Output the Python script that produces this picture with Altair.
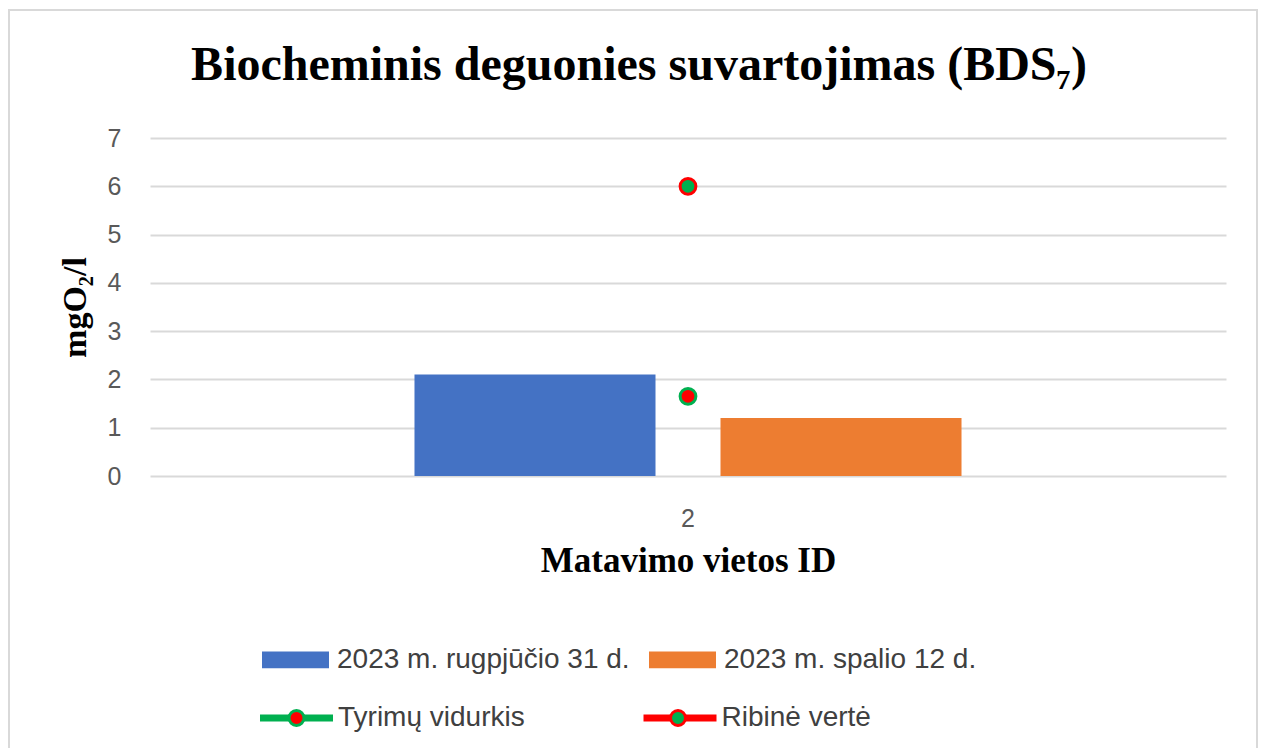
import altair as alt
import pandas as pd

site_ids = ["2"]
bar_series = ["2023 m. rugpjūčio 31 d.", "2023 m. spalio 12 d."]
bar_values = [2.1, 1.2]
bar_colors = ["#4472C4", "#ED7D31"]
point_series = ["Tyrimų vidurkis", "Ribinė vertė"]
point_values = [1.65, 6.0]
point_fill = ["#FF0000", "#00B050"]
point_stroke = ["#00B050", "#FF0000"]
y_ticks = [0, 1, 2, 3, 4, 5, 6, 7]

bars_df = pd.DataFrame({"id": site_ids * 2, "series": bar_series, "value": bar_values})
pts_df = pd.DataFrame({"id": site_ids * 2, "series": point_series,
                       "line_series": point_series, "value": point_values})

W, H = 1076, 338
SANS = "Liberation Sans"
SERIF = "Liberation Serif"

x_enc = alt.X(
    "id:N", title="Matavimo vietos ID",
    scale=alt.Scale(paddingInner=0, paddingOuter=0.4835),
    axis=alt.Axis(labelAngle=0, labelFont=SANS, labelFontSize=25, labelColor="#595959",
                  labelBaseline="alphabetic", labelPadding=50, ticks=False, tickSize=0,
                  domain=False, grid=False,
                  titleFont=SERIF, titleFontSize=35, titleFontWeight="bold", titleColor="black",
                  titleX=W / 2, titleY=95, titleBaseline="alphabetic", titleAlign="center"),
)
y_enc = alt.Y(
    "value:Q", title="mgO₂/l",
    scale=alt.Scale(domain=[0, 7], nice=False),
    axis=alt.Axis(values=y_ticks, labelFont=SANS, labelFontSize=25, labelColor="#595959",
                  labelPadding=29, ticks=False, tickSize=0, domain=False,
                  grid=True, gridColor="#D9D9D9", gridWidth=2,
                  titleFont=SERIF, titleFontSize=34, titleFontWeight="bold", titleColor="black",
                  titleAngle=270, titleX=-75, titleY=H / 2, titleAlign="center",
                  titleBaseline="middle"),
)

rect_path = "M-1,-0.25H1V0.25H-1Z"
line_path = "M-1,0H1"
r = 0.1948
circle_path = f"M{r},0A{r},{r},0,1,1,-{r},0A{r},{r},0,1,1,{r},0Z"

leg_bars = alt.Legend(title=None, orient="none", legendX=112, legendY=488, direction="horizontal",
                      symbolType=rect_path, symbolSize=67 * 67, symbolStrokeWidth=0,
                      labelFont=SANS, labelFontSize=28, labelColor="#404040", labelOffset=8,
                      columnPadding=19, padding=0, labelLimit=600)
leg_lines = alt.Legend(title=None, orient="none", legendX=106.5, legendY=540,
                       direction="horizontal",
                       symbolType=line_path, symbolSize=73 * 73, symbolStrokeWidth=7,
                       labelFont=SANS, labelFontSize=28, labelColor="#404040", labelOffset=1.5,
                       columnPadding=103.5, padding=0, labelLimit=600, zindex=1)
leg_dots = alt.Legend(title=None, orient="none", legendX=106.5, legendY=540,
                      direction="horizontal",
                      symbolType=circle_path, symbolSize=77 * 77, symbolStrokeWidth=3,
                      symbolOpacity=1, labelExpr="''", labelFontSize=28, labelOffset=0,
                      columnPadding=301.5, padding=0, zindex=2)

frame = alt.Chart(alt.Data(values=[{"f": 1}])).mark_rect(
    fillOpacity=0, stroke="#D9D9D9", strokeWidth=2
).encode(x=alt.value(-141), x2=alt.value(1107), y=alt.value(-128), y2=alt.value(700))

bars = alt.Chart(bars_df).mark_bar().encode(
    x=x_enc,
    xOffset=alt.XOffset("series:N", scale=alt.Scale(domain=bar_series, paddingInner=0.2124,
                                                    paddingOuter=0)),
    y=y_enc,
    color=alt.Color("series:N", scale=alt.Scale(domain=bar_series, range=bar_colors),
                    legend=leg_bars),
)

lines = alt.Chart(pts_df).mark_line(strokeWidth=7).encode(
    x=x_enc, y=y_enc,
    color=alt.Color("line_series:N", scale=alt.Scale(domain=point_series, range=point_stroke),
                    legend=leg_lines),
)

points = alt.Chart(pts_df).mark_circle(size=250, strokeWidth=3, opacity=1).encode(
    x=x_enc, y=y_enc,
    fill=alt.Fill("series:N", scale=alt.Scale(domain=point_series, range=point_fill),
                  legend=leg_dots),
    stroke=alt.Stroke("series:N", scale=alt.Scale(domain=point_series, range=point_stroke),
                      legend=leg_dots),
)

chart = alt.layer(frame, bars, lines, points).resolve_scale(color="independent").properties(
    width=W, height=H,
    autosize=alt.AutoSizeParams(type="none"),
    padding={"left": 142, "top": 130, "right": 32, "bottom": 272},
    title=alt.TitleParams("Biocheminis deguonies suvartojimas (BDS₇)", font=SERIF, fontSize=48,
                          fontWeight="bold", color="black", anchor="middle", baseline="alphabetic",
                          offset=0, dx=-49, dy=119),
).configure_view(stroke=None)

chart.save("out.html", embed_options={"renderer": "svg", "actions": False})
